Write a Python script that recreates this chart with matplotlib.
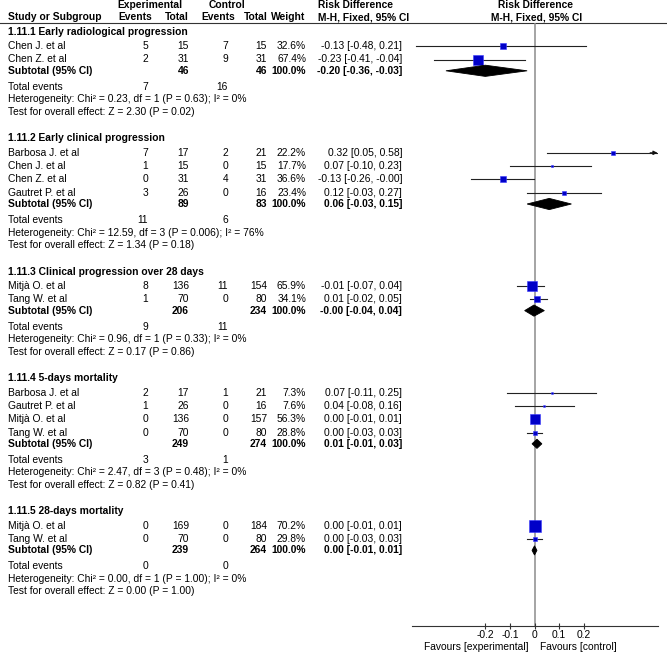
import matplotlib
matplotlib.use("Agg")
import matplotlib.pyplot as plt

plt.rcParams['font.family'] = ['Liberation Sans', 'DejaVu Sans']
FS = 7.4

# ---------------- data ----------------
group_titles = [
    "1.11.1 Early radiological progression",
    "1.11.2 Early clinical progression",
    "1.11.3 Clinical progression over 28 days",
    "1.11.4 5-days mortality",
    "1.11.5 28-days mortality",
]
study_names = [
    ["Chen J. et al", "Chen Z. et al"],
    ["Barbosa J. et al", "Chen J. et al", "Chen Z. et al", "Gautret P. et al"],
    ["Mitjà O. et al", "Tang W. et al"],
    ["Barbosa J. et al", "Gautret P. et al", "Mitjà O. et al", "Tang W. et al"],
    ["Mitjà O. et al", "Tang W. et al"],
]
exp_events = [[5, 2], [7, 1, 0, 3], [8, 1], [2, 1, 0, 0], [0, 0]]
exp_totals = [[15, 31], [17, 15, 31, 26], [136, 70], [17, 26, 136, 70], [169, 70]]
ctrl_events = [[7, 9], [2, 0, 4, 0], [11, 0], [1, 0, 0, 0], [0, 0]]
ctrl_totals = [[15, 31], [21, 15, 31, 16], [154, 80], [21, 16, 157, 80], [184, 80]]
weights = [[32.6, 67.4], [22.2, 17.7, 36.6, 23.4], [65.9, 34.1], [7.3, 7.6, 56.3, 28.8], [70.2, 29.8]]
rd = [[-0.13, -0.23], [0.32, 0.07, -0.13, 0.12], [-0.01, 0.01], [0.07, 0.04, 0.00, 0.00], [0.00, 0.00]]
rd_lo = [[-0.48, -0.41], [0.05, -0.10, -0.26, -0.03], [-0.07, -0.02], [-0.11, -0.08, -0.01, -0.03], [-0.01, -0.03]]
rd_hi = [[0.21, -0.04], [0.58, 0.23, -0.002, 0.27], [0.04, 0.05], [0.25, 0.16, 0.01, 0.03], [0.01, 0.03]]

sub_exp_total = [46, 89, 206, 249, 239]
sub_ctrl_total = [46, 83, 234, 274, 264]
sub_rd = [-0.20, 0.06, -0.002, 0.01, 0.00]
sub_lo = [-0.36, -0.03, -0.04, -0.01, -0.01]
sub_hi = [-0.03, 0.15, 0.04, 0.03, 0.01]
tot_exp_events = [7, 11, 9, 3, 0]
tot_ctrl_events = [16, 6, 11, 1, 0]
het_chi2 = ["0.23", "12.59", "0.96", "2.47", "0.00"]
het_df = [1, 3, 1, 3, 1]
het_p = ["0.63", "0.006", "0.33", "0.48", "1.00"]
het_i2 = [0, 76, 0, 0, 0]
z_val = ["2.30", "1.34", "0.17", "0.82", "0.00"]
z_p = ["0.02", "0.18", "0.86", "0.41", "1.00"]

x_ticks = [-0.2, -0.1, 0, 0.1, 0.2]
x_tick_labels = ["-0.2", "-0.1", "0", "0.1", "0.2"]

# ---------------- layout ----------------
W, H = 667, 652
fig = plt.figure(figsize=(W / 100, H / 100), dpi=100)
tx = fig.add_axes([0, 0, 1, 1])
tx.set_xlim(0, W)
tx.set_ylim(H, 0)
tx.axis('off')

AX_L, AX_R, AX_T, AX_B = 411.5, 657.5, 22.7, 625.7
fx = fig.add_axes([AX_L / W, (H - AX_B) / H, (AX_R - AX_L) / W, (AX_B - AX_T) / H])
fx.set_xlim(-0.5, 0.5)
fx.set_ylim(AX_B, AX_T)
fx.patch.set_alpha(0)
for s in ['top', 'left', 'right']:
    fx.spines[s].set_visible(False)
fx.spines['bottom'].set_color('#333333')
fx.spines['bottom'].set_linewidth(0.8)
fx.set_yticks([])
fx.set_xticks(x_ticks)
fx.set_xticklabels(x_tick_labels)
fx.tick_params(axis='x', direction='inout', length=5, width=0.8, pad=0.3,
               labelsize=FS, color='#333333')
fx.axvline(0, color='#8c8c8c', lw=1.1, zorder=1)

X_NAME = 8
X_EE = 148
X_ET = 189
X_CE = 228
X_CT = 267
X_W = 306
X_CI = 402


def t(x, y, s, ha='left', bold=False):
    tx.text(x, y, s, ha=ha, va='center', fontsize=FS,
            fontweight='bold' if bold else 'normal', color='black')


# headers
t(150, 5, "Experimental", ha='center', bold=True)
t(227, 5, "Control", ha='center', bold=True)
t(318, 5, "Risk Difference", bold=True)
t(535, 5, "Risk Difference", ha='center', bold=True)
Y_H2 = 17.3
t(X_NAME, Y_H2, "Study or Subgroup", bold=True)
t(152, Y_H2, "Events", ha='right', bold=True)
t(189, Y_H2, "Total", ha='right', bold=True)
t(235, Y_H2, "Events", ha='right', bold=True)
t(268, Y_H2, "Total", ha='right', bold=True)
t(305, Y_H2, "Weight", ha='right', bold=True)
t(318, Y_H2, "M-H, Fixed, 95% CI", bold=True)
t(537, Y_H2, "M-H, Fixed, 95% CI", ha='center', bold=True)
tx.plot([0, W], [22.7, 22.7], color='#333333', lw=0.8)

BLUE = '#0000c8'


def ci_text(e, lo, hi):
    return f"{e:.2f} [{lo:.2f}, {hi:.2f}]"


y = 31.7
for g in range(len(group_titles)):
    t(X_NAME, y, group_titles[g], bold=True)
    y += 14.5
    for i, name in enumerate(study_names[g]):
        t(X_NAME, y, name)
        t(X_EE, y, str(exp_events[g][i]), ha='right')
        t(X_ET, y, str(exp_totals[g][i]), ha='right')
        t(X_CE, y, str(ctrl_events[g][i]), ha='right')
        t(X_CT, y, str(ctrl_totals[g][i]), ha='right')
        t(X_W, y, f"{weights[g][i]:.1f}%", ha='right')
        t(X_CI, y, ci_text(rd[g][i], rd_lo[g][i], rd_hi[g][i]), ha='right')
        lo, hi = rd_lo[g][i], rd_hi[g][i]
        xmax = fx.get_xlim()[1]
        if hi > xmax:
            fx.plot([lo, xmax], [y, y], color='#222222', lw=0.8, zorder=2)
            fx.annotate('', xy=(xmax, y), xytext=(xmax - 0.03, y),
                        arrowprops=dict(arrowstyle='-|>', color='#111111',
                                        lw=0.8, mutation_scale=6,
                                        shrinkA=0, shrinkB=0))
        else:
            fx.plot([lo, hi], [y, y], color='#222222', lw=0.8, zorder=2)
        side = max(0.16 * weights[g][i], 1.8) * 0.72
        fx.plot([rd[g][i]], [y], marker='s', markersize=side, color=BLUE,
                mec='#3a3aff', mew=0.4, zorder=3)
        y += 13.3
    y += 11.3 - 13.3
    t(X_NAME, y, "Subtotal (95% CI)", bold=True)
    t(X_ET, y, str(sub_exp_total[g]), ha='right', bold=True)
    t(X_CT, y, str(sub_ctrl_total[g]), ha='right', bold=True)
    t(X_W, y, "100.0%", ha='right', bold=True)
    t(X_CI, y, ci_text(sub_rd[g], sub_lo[g], sub_hi[g]), ha='right', bold=True)
    hh = 5.6 if (sub_hi[g] - sub_lo[g]) > 0.05 else 4.6
    fx.fill([sub_lo[g], sub_rd[g], sub_hi[g], sub_rd[g]],
            [y, y - hh, y, y + hh], color='black', lw=0.6, zorder=3)
    y += 16
    t(X_NAME, y, "Total events")
    t(X_EE, y, str(tot_exp_events[g]), ha='right')
    t(X_CE, y, str(tot_ctrl_events[g]), ha='right')
    y += 12.5
    t(X_NAME, y, f"Heterogeneity: Chi² = {het_chi2[g]}, df = {het_df[g]} "
                 f"(P = {het_p[g]}); I² = {het_i2[g]}%")
    y += 12.5
    t(X_NAME, y, f"Test for overall effect: Z = {z_val[g]} (P = {z_p[g]})")
    y += 26.5

t(529, 647, "Favours [experimental]", ha='right')
t(539.5, 647, "Favours [control]", ha='left')

fig.savefig("out.png", dpi=100)
